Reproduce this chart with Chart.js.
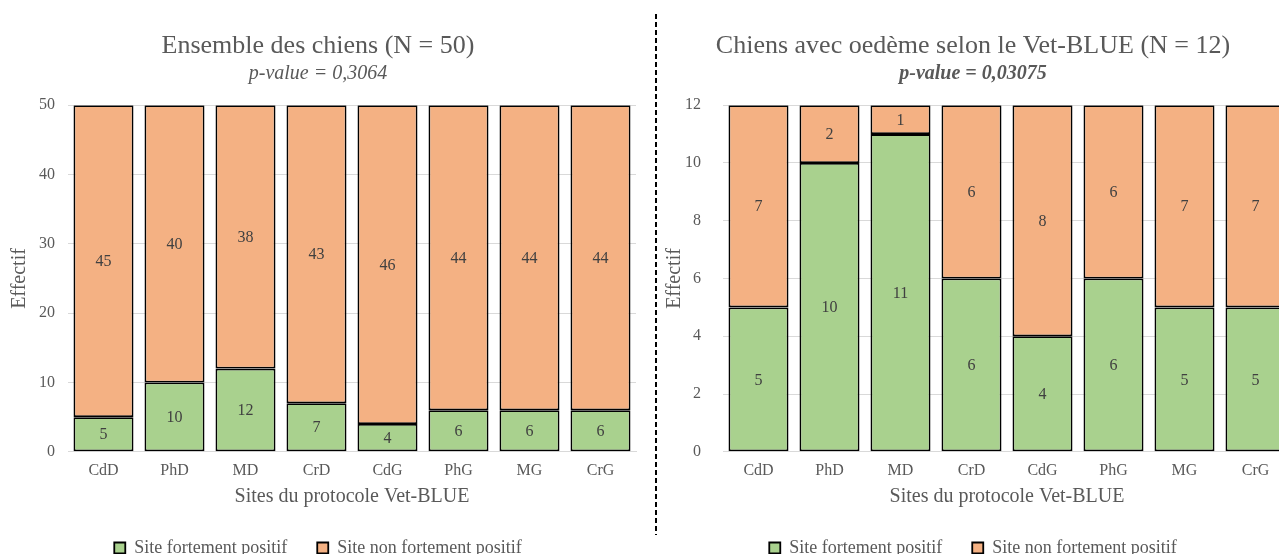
<!DOCTYPE html>
<html>
<head>
<meta charset="utf-8">
<script src="https://cdn.jsdelivr.net/npm/chart.js@4/dist/chart.umd.min.js"></script>
<style>
  html, body { margin: 0; padding: 0; background: #fff; overflow: hidden; width: 1279px; height: 554px; }
  .box { position: absolute; top: 0; width: 638px; height: 567px; }
  #leftBox { left: 0; }
  #rightBox { left: 655px; }
  #sep {
    position: absolute; left: 655px; top: 14px; width: 2px; height: 521px;
    background: repeating-linear-gradient(to bottom, #000 0 5px, transparent 5px 8px);
  }
</style>
</head>
<body>
<div class="box" id="leftBox"><canvas id="chartAll"></canvas></div>
<div id="sep"></div>
<div class="box" id="rightBox"><canvas id="chartOedeme"></canvas></div>
<script>
// ---- données ----
const sites = ['CdD', 'PhD', 'MD', 'CrD', 'CdG', 'PhG', 'MG', 'CrG'];

// Ensemble des chiens (N = 50)
const allPositive = [5, 10, 12, 7, 4, 6, 6, 6];
const allNotPositive = [45, 40, 38, 43, 46, 44, 44, 44];

// Chiens avec oedème (N = 12)
const oedPositive = [5, 10, 11, 6, 4, 6, 5, 5];
const oedNotPositive = [7, 2, 1, 6, 8, 6, 7, 7];

const SERIF = "'Liberation Serif', 'Times New Roman', serif";
const GREY = '#595959';
const CANVAS_W = 638;
const CANVAS_H = 567; // un peu plus haut que la fenêtre, le bas de la légende est coupé

// étiquettes de valeur au milieu de chaque segment
const segmentLabels = {
  id: 'segmentLabels',
  afterDatasetsDraw(chart) {
    const ctx = chart.ctx;
    ctx.save();
    ctx.font = '16px ' + SERIF;
    ctx.fillStyle = '#404040';
    ctx.textAlign = 'center';
    ctx.textBaseline = 'middle';
    chart.data.datasets.forEach((ds, i) => {
      chart.getDatasetMeta(i).data.forEach((bar, j) => {
        ctx.fillText(ds.data[j], bar.x, (bar.y + bar.base) / 2 + 1);
      });
    });
    ctx.restore();
  }
};

function makeChart(id, positive, notPositive, yMax, yStep, title, pText, pBold, tickPad) {
  return new Chart(document.getElementById(id), {
    type: 'bar',
    data: {
      labels: sites,
      datasets: [
        {
          label: 'Site fortement positif',
          data: positive,
          backgroundColor: '#A9D18E',
          borderColor: '#000',
          borderWidth: 1.8,
          borderSkipped: false
        },
        {
          label: 'Site non fortement positif',
          data: notPositive,
          backgroundColor: '#F4B183',
          borderColor: '#000',
          borderWidth: 1.8,
          borderSkipped: false
        }
      ]
    },
    options: {
      responsive: false,
      animation: false,
      devicePixelRatio: 1,
      layout: { padding: { left: 0, right: 2, top: 0, bottom: 0 } },
      datasets: { bar: { barPercentage: 0.845, categoryPercentage: 1 } },
      plugins: {
        tooltip: { enabled: false },
        title: {
          display: true,
          text: title,
          color: GREY,
          font: { family: SERIF, size: 26, weight: 'normal' },
          padding: { top: 31, bottom: 0 }
        },
        subtitle: {
          display: true,
          text: pText,
          color: GREY,
          font: { family: SERIF, size: 20, style: 'italic', weight: pBold ? 'bold' : 'normal' },
          padding: { top: 0, bottom: 19 }
        },
        legend: {
          position: 'bottom',
          labels: {
            color: GREY,
            font: { family: SERIF, size: 18 },
            boxWidth: 11,
            boxHeight: 11,
            padding: 30
          }
        }
      },
      scales: {
        x: {
          stacked: true,
          grid: { display: false, drawTicks: false },
          border: { display: true, color: '#d9d9d9', width: 1 },
          ticks: { color: GREY, font: { family: SERIF, size: 16 }, padding: 9 },
          title: {
            display: true,
            text: 'Sites du protocole Vet-BLUE',
            color: GREY,
            font: { family: SERIF, size: 20 },
            padding: { top: -4, bottom: 0 }
          }
        },
        y: {
          stacked: true,
          min: 0,
          max: yMax,
          afterFit(scale) { scale.width = 68; },
          grid: { color: '#d9d9d9', lineWidth: 1, drawTicks: false },
          border: { display: false },
          ticks: { stepSize: yStep, color: GREY, font: { family: SERIF, size: 16 }, padding: tickPad },
          title: {
            display: true,
            text: 'Effectif',
            color: GREY,
            font: { family: SERIF, size: 20 },
            padding: { top: 8, bottom: 0 }
          }
        }
      }
    },
    plugins: [segmentLabels]
  });
}

function sizeCanvas(id) {
  const c = document.getElementById(id);
  c.width = CANVAS_W;
  c.height = CANVAS_H;
  c.style.width = CANVAS_W + 'px';
  c.style.height = CANVAS_H + 'px';
}

sizeCanvas('chartAll');
sizeCanvas('chartOedeme');

makeChart('chartAll', allPositive, allNotPositive, 50, 10,
  'Ensemble des chiens (N = 50)', 'p-value = 0,3064', false, 13);
makeChart('chartOedeme', oedPositive, oedNotPositive, 12, 2,
  'Chiens avec oedème selon le Vet-BLUE (N = 12)', 'p-value = 0,03075', true, 22);
</script>
</body>
</html>
